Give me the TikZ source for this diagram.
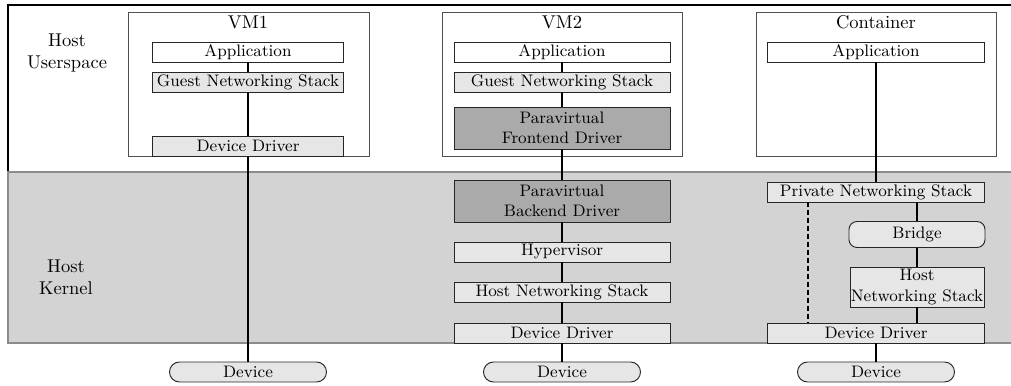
\documentclass[tikz,border=0pt]{standalone}
\usetikzlibrary{calc}
\newdimen\pxu
\pxu=0.54pt
\definecolor{kernbg}{HTML}{D3D3D3}
\definecolor{kernedge}{HTML}{8C8C8C}
\definecolor{lightbox}{HTML}{E6E6E6}
\definecolor{darkbox}{HTML}{AAAAAA}
\definecolor{frameedge}{HTML}{505050}
\tikzset{
  layerbox/.style={draw=black!85, line width=0.5pt, inner sep=0pt, font=\small, align=center, minimum height=20\pxu},
  whitebox/.style={layerbox, fill=white},
  greybox/.style={layerbox, fill=lightbox},
  darkgreybox/.style={layerbox, fill=darkbox},
  devbox/.style={layerbox, fill=lightbox, rounded corners=10\pxu, minimum width=157\pxu},
  bridgebox/.style={layerbox, fill=lightbox, rounded corners=8\pxu},
  frame/.style={draw=frameedge, line width=0.5pt, inner sep=0pt, fill=white},
  heading/.style={font=\normalsize, inner sep=0pt},
  region/.style={font=\normalsize, align=center, inner sep=0pt},
  link/.style={line width=0.8pt, black},
}
\begin{document}
\begin{tikzpicture}[x=0.54pt, y=-0.54pt]
\useasboundingbox (0,0) rectangle (1011,385);
% host regions
\draw[line width=0.9pt, black] (8,5) rectangle (1030,172);
\draw[fill=kernbg, draw=kernedge, line width=0.6pt] (8,172) rectangle (1030,343);
\node[region] (hu) at (67,53) {Host\\Userspace};
\node[region] (hk) at (66,277) {Host\\Kernel};
% frames
\node[frame, minimum width=241\pxu, minimum height=144\pxu] (vm1) at (248.5,84) {};
\node[frame, minimum width=240\pxu, minimum height=144\pxu] (vm2) at (562,84) {};
\node[frame, minimum width=240\pxu, minimum height=144\pxu] (ct) at (876,84) {};
\node[heading] (vm1t) at (248,22.5) {VM1};
\node[heading] (vm2t) at (562,22.5) {VM2};
\node[heading] (ctt) at (876,22.5) {Container};
% VM1
\node[whitebox, minimum width=191\pxu] (a1) at (248,52) {Application};
\node[greybox, minimum width=191\pxu] (g1) at (248,82) {Guest Networking Stack};
\node[greybox, minimum width=191\pxu] (d1) at (248,146) {Device Driver};
\node[devbox] (dev1) at (248,372) {Device};
% VM2
\node[whitebox, minimum width=216\pxu] (a2) at (562,52) {Application};
\node[greybox, minimum width=216\pxu] (g2) at (562,82) {Guest Networking Stack};
\node[darkgreybox, minimum width=216\pxu, minimum height=42\pxu] (f2) at (562,128) {Paravirtual\\Frontend Driver};
\node[darkgreybox, minimum width=216\pxu, minimum height=42\pxu] (b2) at (562,201) {Paravirtual\\Backend Driver};
\node[greybox, minimum width=216\pxu] (h2) at (562,252) {Hypervisor};
\node[greybox, minimum width=216\pxu] (n2) at (562,292) {Host Networking Stack};
\node[greybox, minimum width=216\pxu] (d2) at (562,333) {Device Driver};
\node[devbox] (dev2) at (562,372) {Device};
% Container
\node[whitebox, minimum width=217\pxu] (a3) at (876,52) {Application};
\node[greybox, minimum width=217\pxu] (p3) at (876,192) {Private Networking Stack};
\node[bridgebox, minimum width=136\pxu, minimum height=26\pxu] (br3) at (917,234.5) {Bridge};
\node[greybox, minimum width=134\pxu, minimum height=40\pxu] (n3) at (917,287) {Host\\Networking Stack};
\node[greybox, minimum width=217\pxu] (d3) at (876,333) {Device Driver};
\node[devbox] (dev3) at (876,372) {Device};
% connectors VM1
\draw[link] (a1) -- (g1);
\draw[link] (g1) -- (d1);
\draw[link] (d1) -- (dev1);
% connectors VM2
\draw[link] (a2) -- (g2);
\draw[link] (g2) -- (f2);
\draw[link] (f2) -- (b2);
\draw[link] (b2) -- (h2);
\draw[link] (h2) -- (n2);
\draw[link] (n2) -- (d2);
\draw[link] (d2) -- (dev2);
% connectors Container
\draw[link] (a3) -- (p3);
\draw[link] (br3.north |- p3.south) -- (br3.north);
\draw[link] (br3) -- (n3);
\draw[link] (n3.south) -- (n3.south |- d3.north);
\draw[link] (d3) -- (dev3);
\coordinate (dsh) at ($(p3.south west)+(41,0)$);
\draw[link, dashed, dash pattern=on 5\pxu off 3\pxu] (dsh) -- (dsh |- d3.north);
\end{tikzpicture}
\end{document}
